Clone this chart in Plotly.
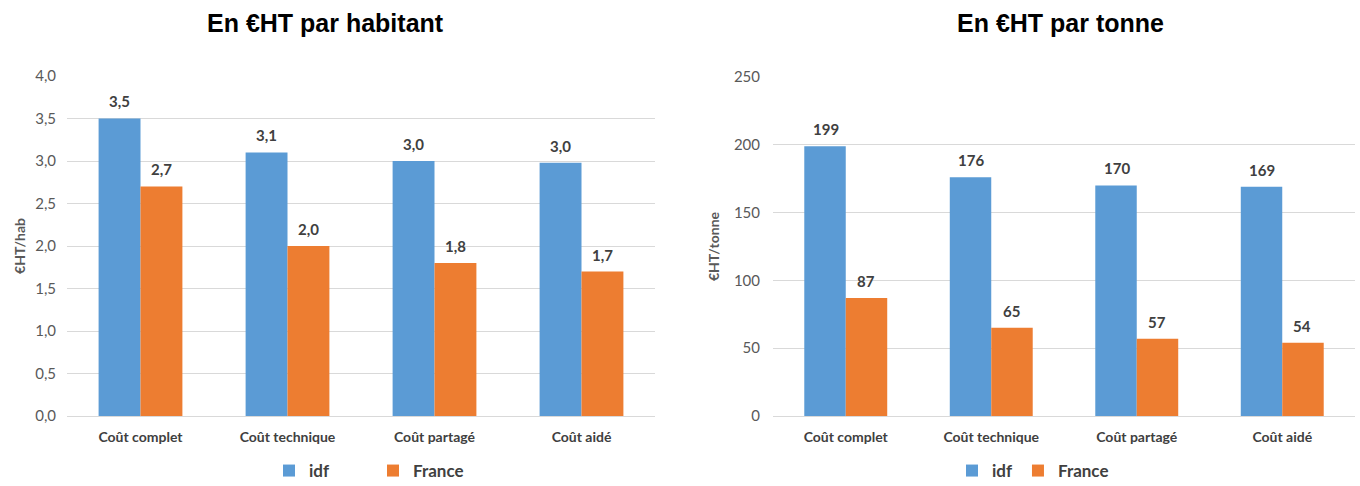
import plotly.graph_objects as go

categories = ["Coût complet", "Coût technique", "Coût partagé", "Coût aidé"]
hab_idf = [3.5, 3.1, 3.0, 2.98]
hab_france = [2.7, 2.0, 1.8, 1.7]
tonne_idf = [199, 176, 170, 169]
tonne_france = [87, 65, 57, 54]
hab_ticks = [0, 0.5, 1.0, 1.5, 2.0, 2.5, 3.0, 3.5, 4.0]
tonne_ticks = [0, 50, 100, 150, 200, 250]

BLUE = "#5B9BD5"
ORANGE = "#ED7D31"
FAM = "Lato, Liberation Sans, sans-serif"
TICK = dict(family=FAM, size=15, color="#595959")
CAT = dict(family=FAM, size=14, color="#404040", weight="bold")
LBL = dict(family=FAM, size=15, color="#404040", weight="bold")

fig = go.Figure()

def add(y, name, color, xa, ya, legend):
    fig.add_trace(go.Bar(
        x=categories, y=y, name=name, marker=dict(color=color, line=dict(width=0)),
        xaxis=xa, yaxis=ya, legend=legend, hoverinfo="x+y",
    ))

add(hab_idf, "idf", BLUE, "x", "y", "legend")
add(hab_france, "France", ORANGE, "x", "y", "legend")
add(tonne_idf, "idf", BLUE, "x2", "y2", "legend2")
add(tonne_france, "France", ORANGE, "x2", "y2", "legend2")

annotations = []
def labels(vals, xr, yr, shift, fmt):
    for c, v in zip(categories, vals):
        annotations.append(dict(x=c, y=v, xref=xr, yref=yr, xshift=shift, yshift=6,
                                yanchor="bottom", showarrow=False,
                                text=fmt(v), font=LBL))

labels(hab_idf, "x", "y", -21, lambda v: f"{v:.1f}".replace(".", ","))
labels(hab_france, "x", "y", 21, lambda v: f"{v:.1f}".replace(".", ","))
labels(tonne_idf, "x2", "y2", -20, lambda v: f"{v:.0f}")
labels(tonne_france, "x2", "y2", 20, lambda v: f"{v:.0f}")

TITLE_FONT = dict(family="Liberation Sans, Arial, sans-serif", size=25, color="black")
annotations.append(dict(text="<b>En €HT par habitant</b>", x=325/1360, y=1-23/486,
                        xref="paper", yref="paper", xanchor="center", yanchor="middle",
                        showarrow=False, font=TITLE_FONT))
annotations.append(dict(text="<b>En €HT par tonne</b>", x=1060/1360, y=1-23/486,
                        xref="paper", yref="paper", xanchor="center", yanchor="middle",
                        showarrow=False, font=TITLE_FONT))

LEG_FONT = dict(family=FAM, size=17, color="#404040", weight="bold")

fig.update_layout(
    width=1360, height=486,
    margin=dict(l=0, r=0, t=0, b=0, autoexpand=False),
    paper_bgcolor="white", plot_bgcolor="white",
    separators=", ",
    barmode="group", bargap=0.43, bargroupgap=0,
    font=dict(family=FAM),
    xaxis=dict(domain=[67/1360, 655/1360], anchor="y", tickfont=CAT, ticklabelstandoff=8,
               showgrid=False, showline=True, linecolor="#d9d9d9", linewidth=1, ticks=""),
    yaxis=dict(domain=[1-416/486, 1-76/486], anchor="x", range=[0, 4.0],
               tickvals=hab_ticks, tickformat=".1f", tickfont=TICK, ticks="", ticklabelstandoff=10,
               showline=False, showgrid=True, gridcolor="#d9d9d9", gridwidth=1, zeroline=False,
               title=dict(text="€HT/hab", font=dict(family=FAM, size=14, color="#595959", weight="bold"), standoff=6)),
    xaxis2=dict(domain=[773/1360, 1355/1360], anchor="y2", tickfont=CAT, ticklabelstandoff=8,
                showgrid=False, showline=True, linecolor="#d9d9d9", linewidth=1, ticks=""),
    yaxis2=dict(domain=[1-416/486, 1-77/486], anchor="x2", range=[0, 250],
                tickvals=tonne_ticks, tickfont=TICK, ticks="", ticklabelstandoff=12,
                showline=False, showgrid=True, gridcolor="#d9d9d9", gridwidth=1, zeroline=False,
                title=dict(text="€HT/tonne", font=dict(family=FAM, size=14, color="#595959", weight="bold"), standoff=10)),
    legend=dict(orientation="h", x=269/1360, y=-3/486, xanchor="left", yanchor="bottom",
                entrywidth=59, entrywidthmode="pixels", itemclick=False, font=LEG_FONT),
    legend2=dict(orientation="h", x=952/1360, y=-3/486, xanchor="left", yanchor="bottom",
                 itemclick=False, font=LEG_FONT),
    annotations=annotations,
)

fig.write_html("out.html", config={"displayModeBar": False},
               post_script="document.body.style.margin='0';document.body.style.overflow='hidden';")
